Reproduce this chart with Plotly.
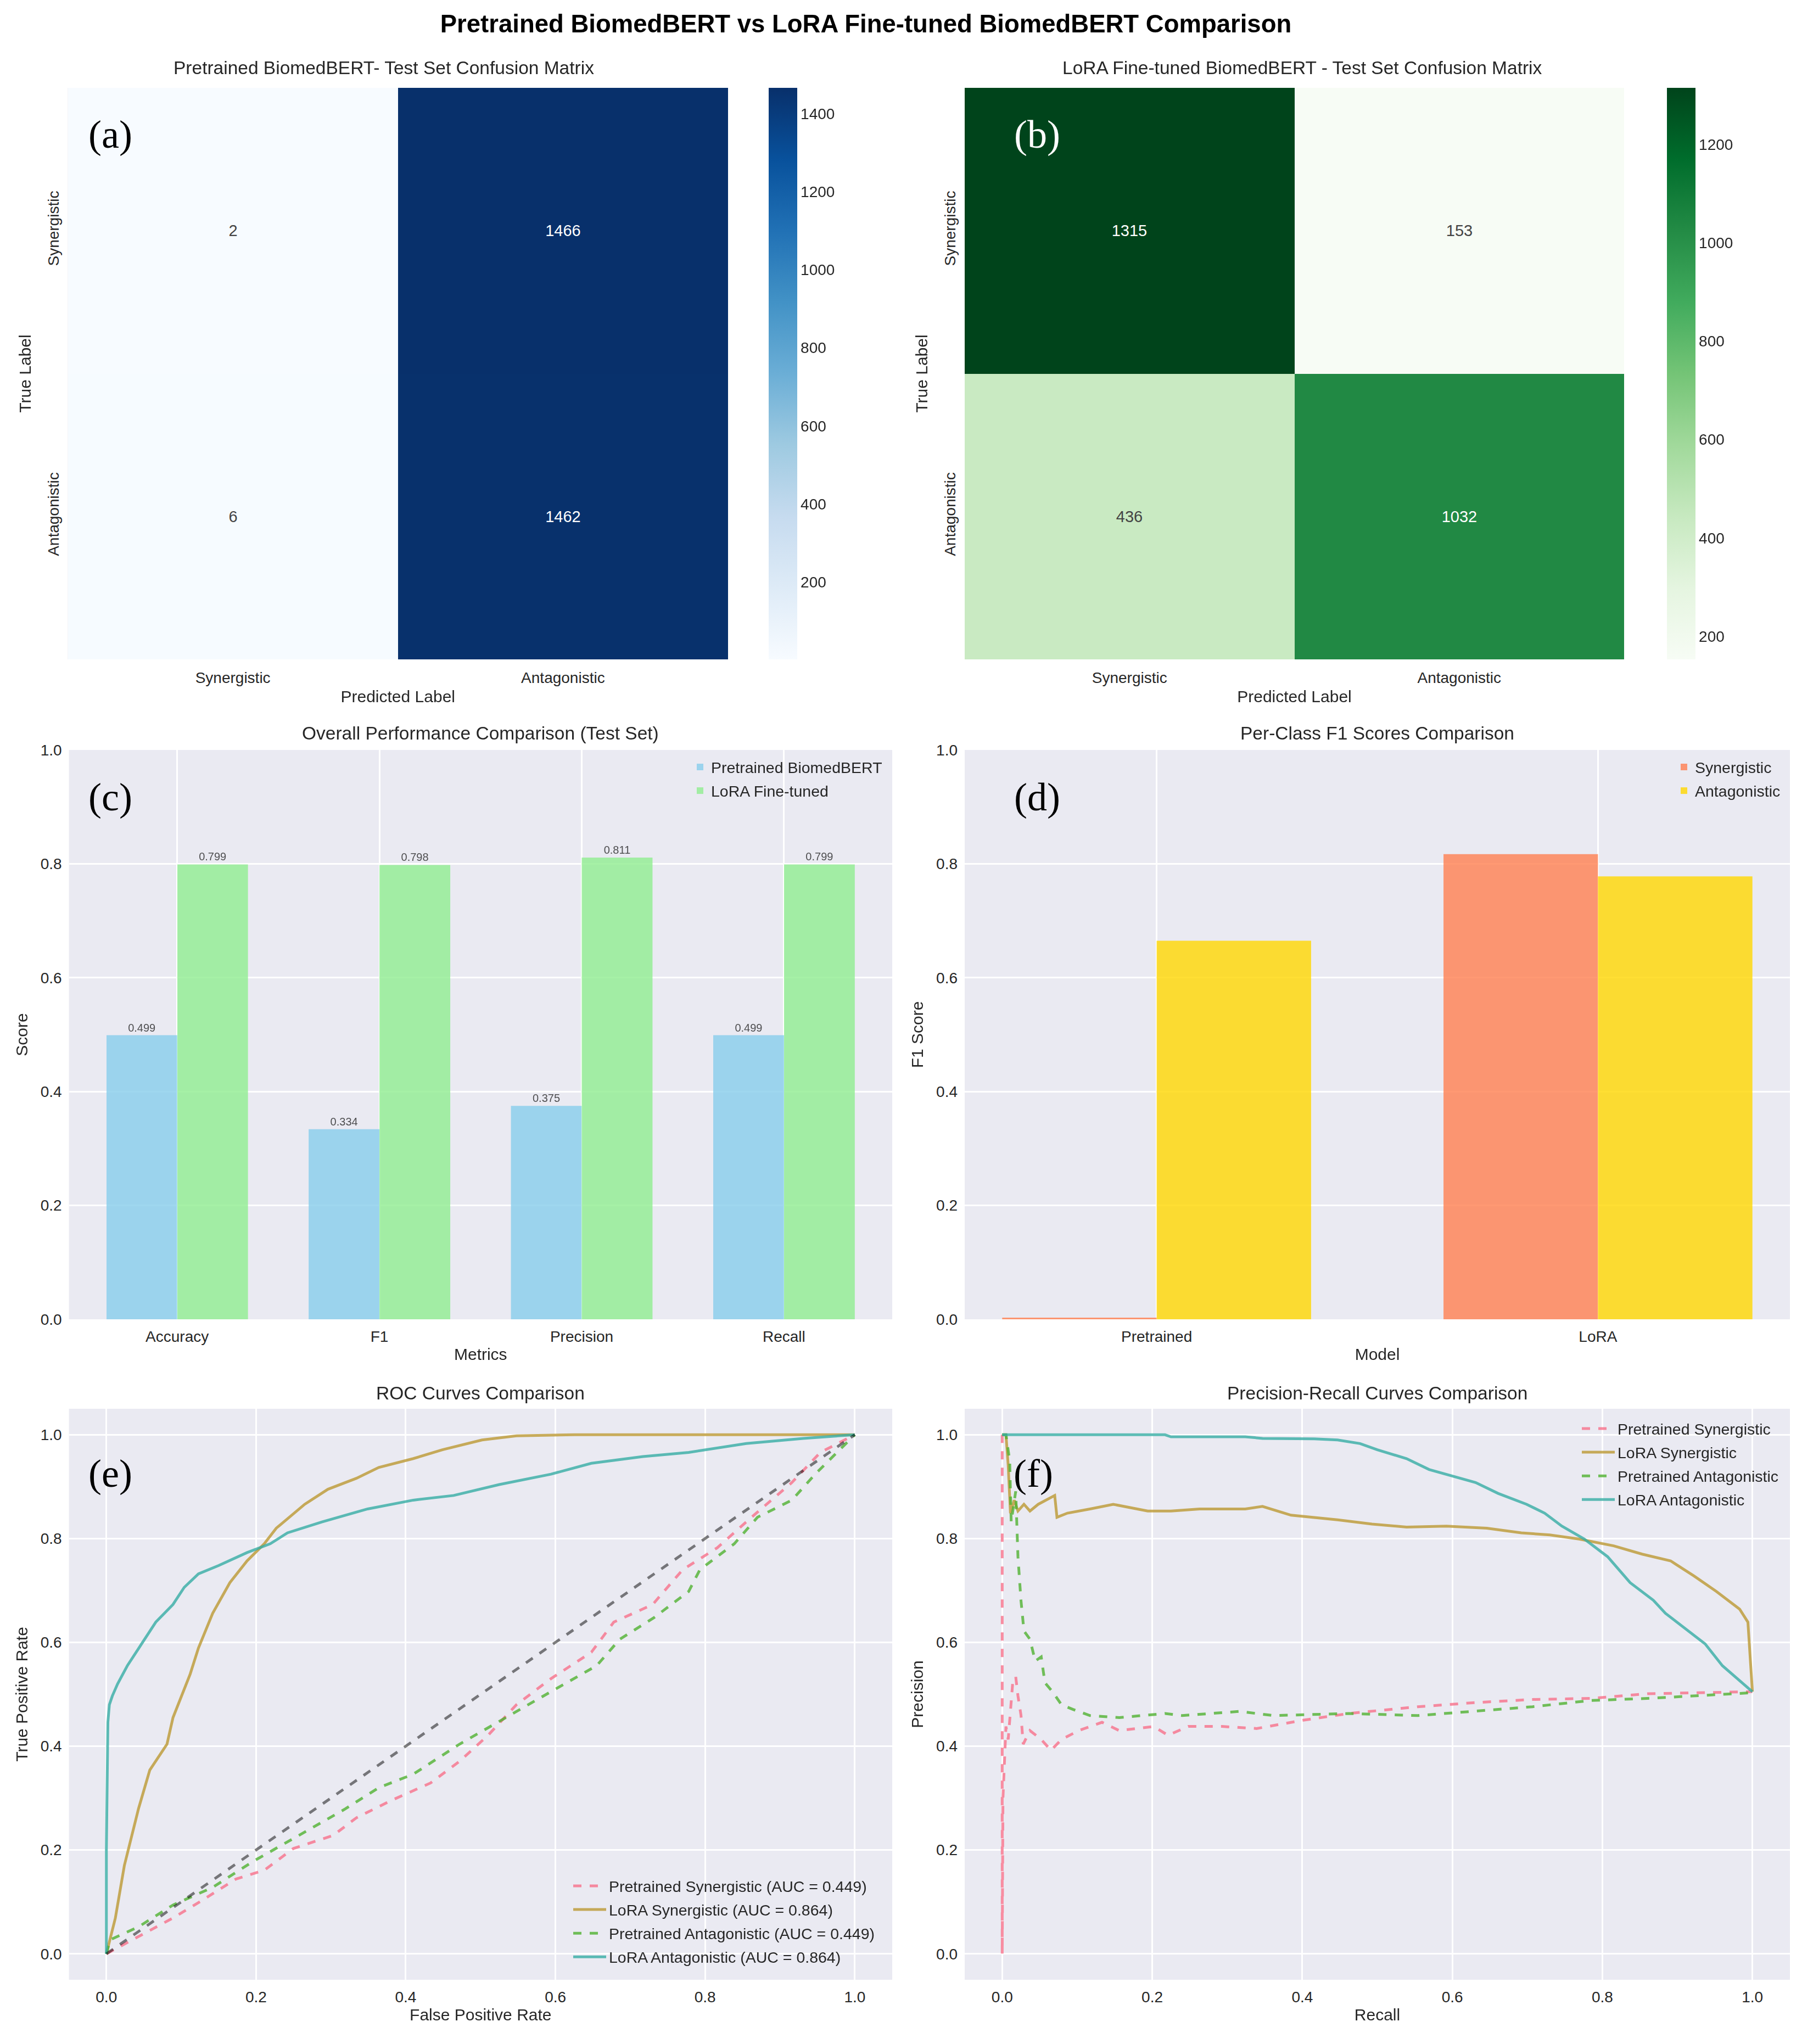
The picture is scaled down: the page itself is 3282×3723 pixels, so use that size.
import plotly.graph_objects as go

W, H = 3282, 3723

# ---------------- data ----------------
class_labels = ["Synergistic", "Antagonistic"]
cm_pretrained = [[2, 1466], [6, 1462]]
cm_lora = [[1315, 153], [436, 1032]]

metric_names = ["Accuracy", "F1", "Precision", "Recall"]
pretrained_scores = [0.499, 0.334, 0.375, 0.499]
lora_scores = [0.799, 0.798, 0.811, 0.799]

model_names = ["Pretrained", "LoRA"]
f1_synergistic = [0.003, 0.817]
f1_antagonistic = [0.665, 0.778]

# ROC curves
roc_pre_syn_fpr = [0.0, 0.035, 0.089, 0.127, 0.173, 0.211, 0.250, 0.303, 0.334, 0.380, 0.433, 0.472,
                   0.510, 0.548, 0.594, 0.648, 0.678, 0.730, 0.770, 0.816, 0.862, 0.916, 0.954, 1.0]
roc_pre_syn_tpr = [0.0, 0.027, 0.069, 0.102, 0.144, 0.161, 0.203, 0.228, 0.262, 0.295, 0.329, 0.371,
                   0.421, 0.480, 0.530, 0.581, 0.639, 0.673, 0.740, 0.782, 0.841, 0.908, 0.966, 1.0]
roc_lora_syn_fpr = [0.0, 0.005, 0.012, 0.024, 0.043, 0.058, 0.081, 0.089, 0.112, 0.123, 0.142, 0.165,
                    0.188, 0.211, 0.227, 0.265, 0.296, 0.334, 0.364, 0.410, 0.449, 0.502, 0.548, 0.625,
                    0.800, 1.0]
roc_lora_syn_tpr = [0.0, 0.030, 0.069, 0.170, 0.280, 0.354, 0.404, 0.455, 0.539, 0.589, 0.656, 0.715,
                    0.757, 0.790, 0.820, 0.866, 0.895, 0.916, 0.937, 0.954, 0.971, 0.990, 0.998, 1.0,
                    1.0, 1.0]
roc_pre_ant_fpr = [0.0, 0.005, 0.043, 0.089, 0.142, 0.196, 0.257, 0.319, 0.364, 0.410, 0.472, 0.533,
                   0.594, 0.655, 0.686, 0.732, 0.778, 0.793, 0.839, 0.870, 0.916, 0.947, 0.977, 1.0]
roc_pre_ant_tpr = [0.0, 0.027, 0.052, 0.094, 0.128, 0.178, 0.228, 0.279, 0.320, 0.346, 0.404, 0.455,
                   0.505, 0.555, 0.606, 0.648, 0.698, 0.740, 0.790, 0.841, 0.874, 0.924, 0.966, 1.0]
roc_lora_ant_fpr = [0.0, 0.0, 0.002, 0.004, 0.008, 0.015, 0.028, 0.047, 0.066, 0.089, 0.104, 0.123,
                    0.150, 0.188, 0.219, 0.242, 0.288, 0.349, 0.410, 0.464, 0.525, 0.594, 0.648, 0.717,
                    0.778, 0.855, 0.931, 1.0]
roc_lora_ant_tpr = [0.0, 0.200, 0.446, 0.480, 0.497, 0.520, 0.555, 0.597, 0.639, 0.673, 0.706, 0.732,
                    0.748, 0.773, 0.790, 0.811, 0.832, 0.857, 0.874, 0.883, 0.904, 0.924, 0.945, 0.958,
                    0.966, 0.983, 0.993, 1.0]
auc_pre = 0.449
auc_lora = 0.864
diag = [0.0, 1.0]

# Precision-recall curves
pr_pre_syn_rec = [0.0, 0.0, 0.001, 0.003, 0.005, 0.008, 0.011, 0.014, 0.018, 0.021, 0.025, 0.028, 0.037,
                  0.052, 0.065, 0.079, 0.102, 0.133, 0.156, 0.202, 0.221, 0.248, 0.293, 0.339, 0.401,
                  0.462, 0.554, 0.631, 0.707, 0.784, 0.860, 1.0]
pr_pre_syn_prec = [1.0, 0.0, 0.300, 0.380, 0.438, 0.413, 0.470, 0.522, 0.534, 0.497, 0.460, 0.404, 0.430,
                   0.413, 0.392, 0.413, 0.430, 0.446, 0.430, 0.438, 0.421, 0.438, 0.438, 0.434, 0.450,
                   0.463, 0.476, 0.484, 0.490, 0.492, 0.501, 0.505]
pr_lora_syn_rec = [0.0, 0.005, 0.008, 0.011, 0.016, 0.021, 0.029, 0.037, 0.048, 0.064, 0.070, 0.073,
                   0.087, 0.117, 0.148, 0.194, 0.225, 0.263, 0.324, 0.347, 0.385, 0.447, 0.493, 0.539,
                   0.592, 0.646, 0.692, 0.730, 0.769, 0.815, 0.853, 0.891, 0.922, 0.952, 0.983, 0.994,
                   0.998, 1.0]
pr_lora_syn_prec = [1.0, 1.0, 0.941, 0.849, 0.874, 0.853, 0.866, 0.853, 0.866, 0.878, 0.883, 0.841,
                    0.849, 0.857, 0.866, 0.853, 0.853, 0.857, 0.857, 0.862, 0.845, 0.836, 0.828, 0.822,
                    0.824, 0.820, 0.811, 0.807, 0.799, 0.786, 0.770, 0.757, 0.728, 0.698, 0.664, 0.639,
                    0.555, 0.505]
pr_pre_ant_rec = [0.0, 0.005, 0.010, 0.012, 0.018, 0.021, 0.025, 0.029, 0.037, 0.044, 0.052, 0.057,
                  0.067, 0.079, 0.094, 0.117, 0.156, 0.217, 0.240, 0.316, 0.362, 0.462, 0.554, 0.631,
                  0.707, 0.784, 0.860, 1.0]
pr_pre_ant_prec = [1.0, 1.0, 0.950, 0.832, 0.891, 0.765, 0.681, 0.622, 0.606, 0.564, 0.572, 0.522,
                   0.505, 0.480, 0.471, 0.459, 0.455, 0.463, 0.459, 0.467, 0.459, 0.463, 0.459, 0.467,
                   0.476, 0.488, 0.492, 0.503]
pr_lora_ant_rec = [0.0, 0.217, 0.225, 0.324, 0.347, 0.416, 0.447, 0.477, 0.500, 0.539, 0.569, 0.600,
                   0.631, 0.661, 0.699, 0.723, 0.746, 0.776, 0.807, 0.837, 0.868, 0.884, 0.914, 0.937,
                   0.960, 0.983, 1.0]
pr_lora_ant_prec = [1.0, 1.0, 0.996, 0.996, 0.993, 0.992, 0.990, 0.983, 0.971, 0.954, 0.933, 0.920,
                    0.908, 0.887, 0.866, 0.849, 0.824, 0.799, 0.765, 0.715, 0.681, 0.656, 0.622, 0.597,
                    0.555, 0.526, 0.505]

# ---------------- style ----------------
FONT = "Liberation Sans, Arial, sans-serif"
SERIF = "Liberation Serif, Times New Roman, serif"
TXT = "#262626"
BG = "#EAEAF2"
PINK = "rgba(247,113,137,0.8)"
GOLD = "rgba(187,152,50,0.8)"
GREEN = "rgba(80,177,49,0.8)"
TEAL = "rgba(54,173,164,0.8)"
TICK = 28
LAB = 30
LEGF = 28.5

def px_x(v):
    return v / W

def px_y(v):
    return 1 - v / H

dom_left = [px_x(123.5), px_x(1326)]
dom_right_hm = [px_x(1757), px_x(2958)]
dom_left_ax = [px_x(125.6), px_x(1625)]
dom_right_ax = [px_x(1757), px_x(3260)]
row1 = [px_y(1201), px_y(160)]
row2 = [px_y(2403), px_y(1366)]
row3 = [px_y(3606), px_y(2566)]

fig = go.Figure()

def cbar(xpix, tickvals):
    return dict(x=px_x(xpix), xanchor="left", y=(row1[0] + row1[1]) / 2, yanchor="middle",
                len=(1201 - 160) / H, lenmode="fraction", thickness=52, outlinewidth=0,
                xpad=0, ypad=0, tickvals=tickvals, ticks="",
                tickfont=dict(size=TICK, color=TXT, family=FONT))

# (a) heatmap
fig.add_trace(go.Heatmap(
    z=cm_pretrained, x=class_labels, y=class_labels, colorscale="Blues",
    texttemplate="%{z}", textfont=dict(size=29, family=FONT),
    xaxis="x", yaxis="y",
    colorbar=cbar(1400, [200, 400, 600, 800, 1000, 1200, 1400]),
    hoverinfo="skip"))

# (b) heatmap
fig.add_trace(go.Heatmap(
    z=cm_lora, x=class_labels, y=class_labels, colorscale="Greens",
    texttemplate="%{z}", textfont=dict(size=29, family=FONT),
    xaxis="x2", yaxis="y2",
    colorbar=cbar(3036, [200, 400, 600, 800, 1000, 1200]),
    hoverinfo="skip"))

# (c) overall performance bars
fig.add_trace(go.Bar(x=metric_names, y=pretrained_scores, name="Pretrained BiomedBERT",
                     marker=dict(color="#87CEEB", line=dict(width=0)), opacity=0.8,
                     texttemplate="%{y:.3f}", textposition="outside", cliponaxis=False,
                     textfont=dict(size=20, color=TXT, family=FONT),
                     xaxis="x3", yaxis="y3", legend="legend", legendgroup="c1", offsetgroup="a"))
fig.add_trace(go.Bar(x=metric_names, y=lora_scores, name="LoRA Fine-tuned",
                     marker=dict(color="#90EE90", line=dict(width=0)), opacity=0.8,
                     texttemplate="%{y:.3f}", textposition="outside", cliponaxis=False,
                     textfont=dict(size=20, color=TXT, family=FONT),
                     xaxis="x3", yaxis="y3", legend="legend", legendgroup="c2", offsetgroup="b"))

# (d) per-class F1 bars
fig.add_trace(go.Bar(x=model_names, y=f1_synergistic, name="Synergistic",
                     marker=dict(color="#FF7F50", line=dict(width=0)), opacity=0.8,
                     xaxis="x4", yaxis="y4", legend="legend2", legendgroup="d1", offsetgroup="a"))
fig.add_trace(go.Bar(x=model_names, y=f1_antagonistic, name="Antagonistic",
                     marker=dict(color="#FFD700", line=dict(width=0)), opacity=0.8,
                     xaxis="x4", yaxis="y4", legend="legend2", legendgroup="d2", offsetgroup="b"))

# (e) ROC curves
LW = 5
fig.add_trace(go.Scatter(x=roc_pre_syn_fpr, y=roc_pre_syn_tpr, mode="lines",
                         name=f"Pretrained Synergistic (AUC = {auc_pre:.3f})",
                         line=dict(color=PINK, width=LW, dash="dash"),
                         xaxis="x5", yaxis="y5", legend="legend3", legendgroup="e1"))
fig.add_trace(go.Scatter(x=roc_lora_syn_fpr, y=roc_lora_syn_tpr, mode="lines",
                         name=f"LoRA Synergistic (AUC = {auc_lora:.3f})",
                         line=dict(color=GOLD, width=LW),
                         xaxis="x5", yaxis="y5", legend="legend3", legendgroup="e2"))
fig.add_trace(go.Scatter(x=roc_pre_ant_fpr, y=roc_pre_ant_tpr, mode="lines",
                         name=f"Pretrained Antagonistic (AUC = {auc_pre:.3f})",
                         line=dict(color=GREEN, width=LW, dash="dash"),
                         xaxis="x5", yaxis="y5", legend="legend3", legendgroup="e3"))
fig.add_trace(go.Scatter(x=roc_lora_ant_fpr, y=roc_lora_ant_tpr, mode="lines",
                         name=f"LoRA Antagonistic (AUC = {auc_lora:.3f})",
                         line=dict(color=TEAL, width=LW),
                         xaxis="x5", yaxis="y5", legend="legend3", legendgroup="e4"))
fig.add_trace(go.Scatter(x=diag, y=diag, mode="lines", showlegend=False,
                         line=dict(color="rgba(0,0,0,0.5)", width=LW, dash="dash"),
                         xaxis="x5", yaxis="y5"))

# (f) PR curves
fig.add_trace(go.Scatter(x=pr_pre_syn_rec, y=pr_pre_syn_prec, mode="lines",
                         name="Pretrained Synergistic",
                         line=dict(color=PINK, width=LW, dash="dash"),
                         xaxis="x6", yaxis="y6", legend="legend4", legendgroup="f1"))
fig.add_trace(go.Scatter(x=pr_lora_syn_rec, y=pr_lora_syn_prec, mode="lines",
                         name="LoRA Synergistic",
                         line=dict(color=GOLD, width=LW),
                         xaxis="x6", yaxis="y6", legend="legend4", legendgroup="f2"))
fig.add_trace(go.Scatter(x=pr_pre_ant_rec, y=pr_pre_ant_prec, mode="lines",
                         name="Pretrained Antagonistic",
                         line=dict(color=GREEN, width=LW, dash="dash"),
                         xaxis="x6", yaxis="y6", legend="legend4", legendgroup="f3"))
fig.add_trace(go.Scatter(x=pr_lora_ant_rec, y=pr_lora_ant_prec, mode="lines",
                         name="LoRA Antagonistic",
                         line=dict(color=TEAL, width=LW),
                         xaxis="x6", yaxis="y6", legend="legend4", legendgroup="f4"))

# ---------------- axes ----------------
def hm_axes(xdom, anchor_x, anchor_y):
    xa = dict(domain=xdom, anchor=anchor_y, showgrid=False, zeroline=False, showline=False,
              range=[-0.5, 1.5], ticks="", automargin=False, ticklabelstandoff=14,
              tickfont=dict(size=TICK, color=TXT, family=FONT),
              title=dict(text="Predicted Label", font=dict(size=LAB, color=TXT, family=FONT), standoff=8))
    ya = dict(domain=row1, anchor=anchor_x, showgrid=False, zeroline=False, showline=False,
              range=[1.5, -0.5], ticks="", automargin=False, tickangle=-90, ticklabelstandoff=10,
              tickfont=dict(size=TICK, color=TXT, family=FONT),
              title=dict(text="True Label", font=dict(size=LAB, color=TXT, family=FONT), standoff=16))
    return xa, ya

def grid_axes(xdom, ydom, anchor_x, anchor_y, xr, yr, xtitle, ytitle, xtickvals=None, ytickvals=None,
              xfmt=None):
    xa = dict(domain=xdom, anchor=anchor_y, range=xr, showgrid=True, gridcolor="white", gridwidth=3,
              zeroline=False, showline=False, ticks="", automargin=False, ticklabelstandoff=12,
              tickfont=dict(size=TICK, color=TXT, family=FONT),
              title=dict(text=xtitle, font=dict(size=LAB, color=TXT, family=FONT), standoff=6))
    if xtickvals is not None:
        xa["tickvals"] = xtickvals
    if xfmt:
        xa["tickformat"] = xfmt
    ya = dict(domain=ydom, anchor=anchor_x, range=yr, showgrid=True, gridcolor="white", gridwidth=3,
              zeroline=False, showline=False, ticks="", automargin=False, ticklabelstandoff=12,
              tickvals=ytickvals, tickformat=".1f",
              tickfont=dict(size=TICK, color=TXT, family=FONT),
              title=dict(text=ytitle, font=dict(size=LAB, color=TXT, family=FONT), standoff=14))
    return xa, ya

TV = [0, 0.2, 0.4, 0.6, 0.8, 1.0]
x1, y1 = hm_axes(dom_left, "x", "y")
x2, y2 = hm_axes(dom_right_hm, "x2", "y2")
x3, y3 = grid_axes(dom_left_ax, row2, "x3", "y3", [-0.535, 3.535], [0, 1.0], "Metrics", "Score",
                   ytickvals=TV)
x4, y4 = grid_axes(dom_right_ax, row2, "x4", "y4", [-0.435, 1.435], [0, 1.0], "Model", "F1 Score",
                   ytickvals=TV)
x5, y5 = grid_axes(dom_left_ax, row3, "x5", "y5", [-0.05, 1.05], [-0.05, 1.05],
                   "False Positive Rate", "True Positive Rate", xtickvals=TV, ytickvals=TV, xfmt=".1f")
x6, y6 = grid_axes(dom_right_ax, row3, "x6", "y6", [-0.05, 1.05], [-0.05, 1.05],
                   "Recall", "Precision", xtickvals=TV, ytickvals=TV, xfmt=".1f")
x3["type"] = "category"
x4["type"] = "category"

def subtitle(text, xcenter, ypix):
    return dict(text=text, x=xcenter, y=px_y(ypix), xref="paper", yref="paper",
                xanchor="center", yanchor="middle", showarrow=False,
                font=dict(size=33.5, color=TXT, family=FONT))

def panel(text, xpix, ypix, color="black"):
    return dict(text=text, x=px_x(xpix), y=px_y(ypix), xref="paper", yref="paper",
                xanchor="center", yanchor="middle", showarrow=False,
                font=dict(size=72, color=color, family=SERIF))

annotations = [
    subtitle("Pretrained BiomedBERT- Test Set Confusion Matrix", px_x(699), 123),
    subtitle("LoRA Fine-tuned BiomedBERT - Test Set Confusion Matrix", px_x(2372), 123),
    subtitle("Overall Performance Comparison (Test Set)", sum(dom_left_ax) / 2, 1335),
    subtitle("Per-Class F1 Scores Comparison", sum(dom_right_ax) / 2, 1335),
    subtitle("ROC Curves Comparison", sum(dom_left_ax) / 2, 2537),
    subtitle("Precision-Recall Curves Comparison", sum(dom_right_ax) / 2, 2537),
    panel("(a)", 201, 245),
    panel("(b)", 1889, 245, "white"),
    panel("(c)", 201, 1452),
    panel("(d)", 1889, 1452),
    panel("(e)", 201, 2684),
    panel("(f)", 1882, 2684),
]

leg_common = dict(bgcolor="rgba(0,0,0,0)", borderwidth=0, tracegroupgap=3,
                  font=dict(size=LEGF, color=TXT, family=FONT))

fig.update_layout(
    width=W, height=H,
    margin=dict(l=0, r=0, t=0, b=0),
    paper_bgcolor="white", plot_bgcolor=BG,
    font=dict(family=FONT, color=TXT),
    title=dict(text="<b>Pretrained BiomedBERT vs LoRA Fine-tuned BiomedBERT Comparison</b>",
               x=px_x(1577), xanchor="center", y=px_y(43), yanchor="middle",
               font=dict(size=45.5, color="black", family=FONT)),
    barmode="group", bargap=0.3, bargroupgap=0.0,
    xaxis=x1, yaxis=y1, xaxis2=x2, yaxis2=y2, xaxis3=x3, yaxis3=y3,
    xaxis4=x4, yaxis4=y4, xaxis5=x5, yaxis5=y5, xaxis6=x6, yaxis6=y6,
    annotations=annotations,
    legend=dict(x=px_x(1612), xanchor="right", y=px_y(1372), yanchor="top", **leg_common),
    legend2=dict(x=px_x(3248), xanchor="right", y=px_y(1372), yanchor="top", **leg_common),
    legend3=dict(x=px_x(1598), xanchor="right", y=px_y(3590), yanchor="bottom", itemwidth=60,
                 **leg_common),
    legend4=dict(x=px_x(3245), xanchor="right", y=px_y(2577), yanchor="top", itemwidth=60,
                 **leg_common),
    showlegend=True,
)

fig.write_html("out.html", config={"displayModeBar": False},
               post_script="document.body.style.margin='0';")
